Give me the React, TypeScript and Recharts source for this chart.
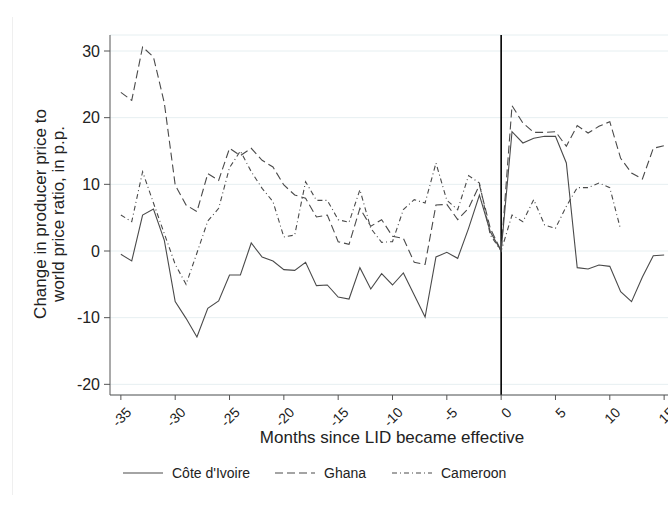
import React from 'react';
import { LineChart, Line, XAxis, YAxis, CartesianGrid, ReferenceLine } from 'recharts';

// months relative to the LID start
const months = [
  -35, -34, -33, -32, -31, -30, -29, -28, -27, -26,
  -25, -24, -23, -22, -21, -20, -19, -18, -17, -16,
  -15, -14, -13, -12, -11, -10, -9, -8, -7, -6,
  -5, -4, -3, -2, -1, 0, 1, 2, 3, 4,
  5, 6, 7, 8, 9, 10, 11, 12, 13, 14,
  15,
];

const coteDivoire = [
  -0.5, -1.5, 5.4, 6.3, 1.6, -7.6, -10.1, -12.9, -8.6, -7.5,
  -3.6, -3.6, 1.2, -0.9, -1.5, -2.8, -2.9, -1.7, -5.2, -5.1,
  -6.9, -7.2, -2.5, -5.7, -3.4, -5.1, -3.3, -6.6, -9.9, -0.9,
  -0.2, -1.1, 3.4, 8.4, 2.9, 0, 17.9, 16.2, 16.9, 17.2,
  17.2, 13.2, -2.5, -2.7, -2.1, -2.3, -6.1, -7.6, -3.9, -0.7,
  -0.6,
];

const ghana = [
  23.8, 22.6, 30.6, 29.1, 22.2, 9.9, 6.9, 5.9, 11.6, 10.6,
  15.4, 14.3, 15.4, 13.6, 12.6, 9.9, 8.4, 7.9, 5.1, 5.4,
  1.4, 1.0, 6.4, 3.7, 4.7, 2.2, 1.9, -1.7, -2.0, 6.9,
  7.0, 4.7, 6.4, 9.9, 3.4, 0, 21.8, 19.2, 17.8, 17.8,
  17.9, 15.7, 18.8, 17.7, 18.7, 19.4, 13.9, 11.7, 10.8, 15.4,
  15.8,
];

const cameroon = [
  5.4, 4.4, 11.9, 7.2, 2.6, -2.0, -5.0, -0.3, 4.5, 6.4,
  12.5, 15.0, 11.9, 9.4, 7.4, 2.1, 2.4, 10.4, 7.6, 7.6,
  4.7, 4.3, 9.2, 3.4, 1.3, 1.4, 6.2, 7.7, 7.2, 13.2,
  7.6, 6.2, 11.3, 10.2, 2.4, 0, 5.4, 4.4, 7.7, 3.9,
  3.4, 6.7, 9.5, 9.5, 10.2, 9.5, 3.2, null, null, null,
  null,
];

const xTicks = [-35, -30, -25, -20, -15, -10, -5, 0, 5, 10, 15];
const yTicks = [-20, -10, 0, 10, 20, 30];

const data = months.map((m, i) => ({
  m,
  civ: coteDivoire[i],
  gha: ghana[i],
  cmr: cameroon[i],
}));

const FONT = '"Liberation Sans", Arial, sans-serif';
const LINE = '#4a4a4a';

const XTick = ({ x, y, payload }: any) => {
  const ax = x + 4;
  const ay = y + 4;
  return (
    <text
      x={ax}
      y={ay}
      transform={`rotate(-45 ${ax} ${ay})`}
      textAnchor="end"
      dominantBaseline="hanging"
      fontSize={14}
      fill="#222"
      fontFamily={FONT}
    >
      {payload.value}
    </text>
  );
};

const YLabel = () => (
  <text
    transform="translate(50 214) rotate(-90)"
    textAnchor="middle"
    fontSize={17}
    fill="#222"
    fontFamily={FONT}
  >
    <tspan x={0} dy={-4}>Change in producer price to</tspan>
    <tspan x={0} dy={18}>world price ratio, in p.p.</tspan>
  </text>
);

const XLabel = () => (
  <text x={392} y={443} textAnchor="middle" fontSize={17} fill="#222" fontFamily={FONT}>
    Months since LID became effective
  </text>
);

const legendItems = [
  { name: "Côte d'Ivoire", dash: undefined, lx: 123 },
  { name: 'Ghana', dash: '8 4', lx: 275 },
  { name: 'Cameroon', dash: '5 3 1 3', lx: 392 },
];

export default function App() {
  return (
    <div style={{ position: 'fixed', left: 0, top: 0, width: 668, height: 505, overflow: 'hidden', background: '#fff' }}>
      <div style={{ position: 'absolute', left: 12, top: 17, width: 1, height: 478, background: '#efefef' }} />
      <LineChart
        width={690}
        height={505}
        data={data}
        margin={{ top: 35, right: 15, left: 0, bottom: 0 }}
      >
        <CartesianGrid horizontal vertical={false} stroke="#e6eff1" />
        <XAxis
          dataKey="m"
          type="number"
          domain={[-36, 16]}
          ticks={xTicks}
          interval={0}
          height={110}
          tick={<XTick />}
          tickSize={5}
          tickMargin={2}
          stroke="#555"
          tickLine={{ stroke: '#555' }}
          allowDataOverflow
          label={<XLabel />}
        />
        <YAxis
          type="number"
          domain={[-21.6, 32.4]}
          ticks={yTicks}
          interval={0}
          width={110}
          tickSize={6}
          tickMargin={4}
          stroke="#555"
          tick={{ fill: '#222', fontSize: 16, fontFamily: FONT }}
          allowDataOverflow
          label={<YLabel />}
        />
        <ReferenceLine x={0} stroke="#000" strokeWidth={1.6} />
        <Line dataKey="civ" stroke={LINE} strokeWidth={1.1} dot={false} isAnimationActive={false} />
        <Line dataKey="gha" stroke={LINE} strokeWidth={1.1} strokeDasharray="8 4" dot={false} isAnimationActive={false} />
        <Line dataKey="cmr" stroke={LINE} strokeWidth={1.1} strokeDasharray="5 3 1 3" dot={false} isAnimationActive={false} />
      </LineChart>
      <svg style={{ position: 'absolute', left: 0, top: 462 }} width={668} height={24}>
        {legendItems.map((it) => (
          <g key={it.name}>
            <line x1={it.lx} x2={it.lx + 40} y1={11} y2={11} stroke={LINE} strokeWidth={1.1} strokeDasharray={it.dash} />
            <text x={it.lx + 49} y={16} fontSize={14} fill="#222" fontFamily={FONT}>
              {it.name}
            </text>
          </g>
        ))}
      </svg>
    </div>
  );
}
